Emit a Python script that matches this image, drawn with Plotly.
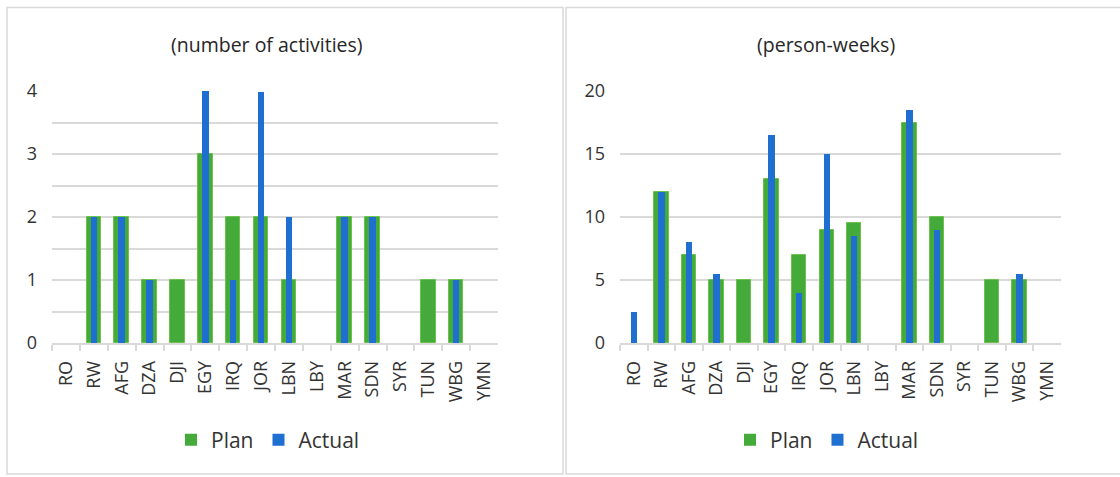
import plotly.graph_objects as go

W, H = 1120, 477

categories = ["RO", "RW", "AFG", "DZA", "DJI", "EGY", "IRQ", "JOR", "LBN", "LBY",
              "MAR", "SDN", "SYR", "TUN", "WBG", "YMN"]

activities_plan = [0, 2, 2, 1, 1, 3, 2, 2, 1, 0, 2, 2, 0, 1, 1, 0]
activities_actual = [0, 2, 2, 1, 0, 4, 1, 3.98, 2, 0, 2, 2, 0, 0, 1, 0]

weeks_plan = [0, 12, 7, 5, 5, 13, 7, 9, 9.5, 0, 17.5, 10, 0, 5, 5, 0]
weeks_actual = [2.5, 12, 8, 5.5, 0, 16.5, 4, 15, 8.5, 0, 18.5, 9, 0, 0, 5.5, 0]

titles = ["(number of activities)", "(person-weeks)"]

GREEN = "#44aa3a"
GREEN_EDGE = "#6cc24f"
BLUE = "#1f6fd0"
GRID = "#d9d9d9"
TEXT = "#333333"
FONT = "Open Sans"


def px(x):
    return x / W


def py(y):
    return 1 - y / H


def edge_widths(vals):
    return [1 if v else 0 for v in vals]


fig = go.Figure()

fig.add_trace(go.Bar(x=categories, y=activities_plan, name="Plan", width=0.52,
                     marker=dict(color=GREEN, line=dict(color=GREEN_EDGE, width=edge_widths(activities_plan))),
                     xaxis="x", yaxis="y", legend="legend"))
fig.add_trace(go.Bar(x=categories, y=activities_actual, name="Actual", width=0.23,
                     marker=dict(color=BLUE, line=dict(width=0)),
                     xaxis="x", yaxis="y", legend="legend"))
fig.add_trace(go.Bar(x=categories, y=weeks_plan, name="Plan", width=0.52,
                     marker=dict(color=GREEN, line=dict(color=GREEN_EDGE, width=edge_widths(weeks_plan))),
                     xaxis="x2", yaxis="y2", legend="legend2"))
fig.add_trace(go.Bar(x=categories, y=weeks_actual, name="Actual", width=0.23,
                     marker=dict(color=BLUE, line=dict(width=0)),
                     xaxis="x2", yaxis="y2", legend="legend2"))

ydom = [py(343), py(91)]

xaxis_common = dict(
    type="category", showline=True, linecolor=GRID, linewidth=1.5,
    ticks="outside", tickson="boundaries", ticklen=6, tickcolor=GRID, tickwidth=1.5,
    tickangle=-90, tickfont=dict(family=FONT, size=18, color=TEXT),
    showgrid=False, zeroline=False, fixedrange=True, ticklabelstandoff=9,
    automargin=False,
)
yaxis_common = dict(
    showline=False, gridcolor=GRID, gridwidth=1.5, zeroline=False,
    tickfont=dict(family=FONT, size=18, color=TEXT), ticks="",
    ticklabelstandoff=14, automargin=False, fixedrange=True,
)

legend_common = dict(orientation="h", xanchor="center", yanchor="middle", y=py(440),
                     font=dict(family=FONT, size=21, color=TEXT), itemwidth=30,
                     bgcolor="rgba(0,0,0,0)", xref="paper", yref="paper")

fig.update_layout(
    width=W, height=H, autosize=False,
    margin=dict(l=0, r=0, t=0, b=0, pad=0, autoexpand=False),
    paper_bgcolor="white", plot_bgcolor="white",
    barmode="overlay",
    bargap=0,
    font=dict(family=FONT, color=TEXT),
    xaxis=dict(domain=[px(52), px(498)], anchor="y", **xaxis_common),
    yaxis=dict(domain=ydom, anchor="x", range=[0, 4], dtick=1,
               minor=dict(dtick=0.5, showgrid=True, gridcolor=GRID, gridwidth=1.5),
               **yaxis_common),
    xaxis2=dict(domain=[px(620), px(1061)], anchor="y2", **xaxis_common),
    yaxis2=dict(domain=ydom, anchor="x2", range=[0, 20], dtick=5, **yaxis_common),
    legend=dict(x=px(268), **legend_common),
    legend2=dict(x=px(827), **legend_common),
    annotations=[
        dict(text=titles[0], x=px(267), y=py(45), xref="paper", yref="paper",
             xanchor="center", yanchor="middle",
             showarrow=False, font=dict(family=FONT, size=19.5, color="#262626")),
        dict(text=titles[1], x=px(826), y=py(45), xref="paper", yref="paper",
             xanchor="center", yanchor="middle",
             showarrow=False, font=dict(family=FONT, size=19.5, color="#262626")),
    ],
    shapes=[
        dict(type="rect", xref="paper", yref="paper",
             x0=px(7), x1=px(563), y0=py(474), y1=py(7.5),
             line=dict(color="#d9d9d9", width=1.5), fillcolor="rgba(0,0,0,0)", layer="below"),
        dict(type="rect", xref="paper", yref="paper",
             x0=px(566), x1=px(1130), y0=py(474), y1=py(7.5),
             line=dict(color="#d9d9d9", width=1.5), fillcolor="rgba(0,0,0,0)", layer="below"),
    ],
)

fig.write_html("out.html")
